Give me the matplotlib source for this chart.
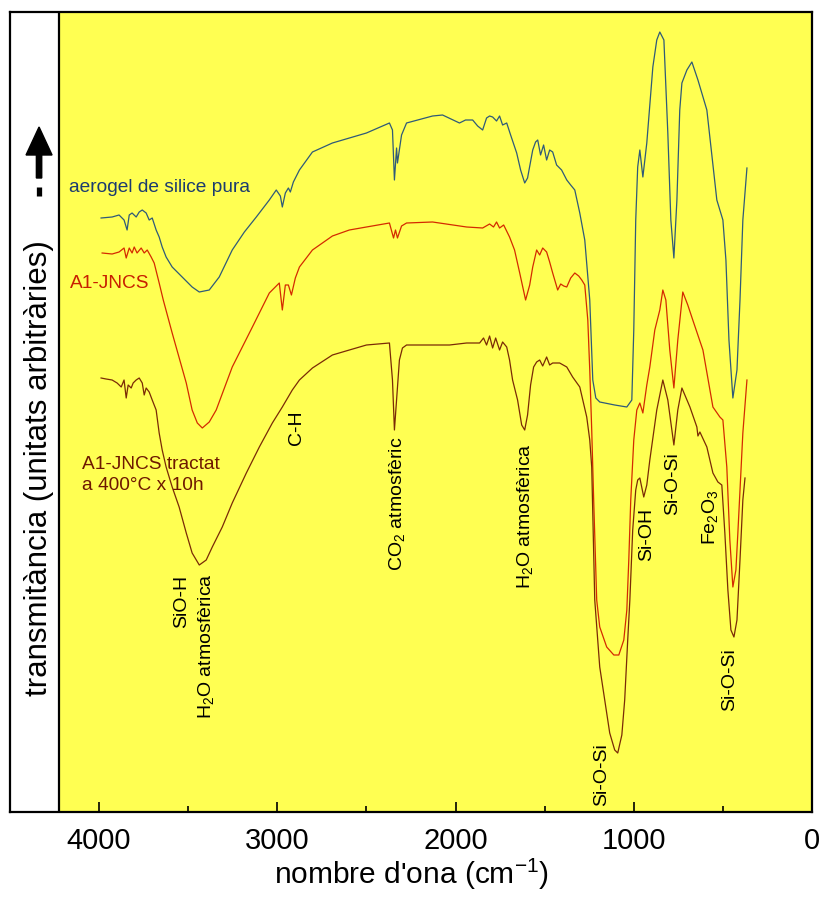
import numpy as np
import matplotlib
matplotlib.use("Agg")
import matplotlib.pyplot as plt

plt.rcParams['font.family'] = ['Liberation Sans', 'DejaVu Sans']
plt.rcParams['mathtext.fontset'] = 'custom'
plt.rcParams['mathtext.rm'] = 'Liberation Sans'
plt.rcParams['mathtext.it'] = 'Liberation Sans'

# espectre FTIR: nombre d'ona (cm-1) i transmitancia (unitats arbitraries)
wn_aerogel = [3989, 3927, 3888, 3860, 3843, 3831, 3815, 3792, 3775, 3758, 3736, 3719, 3702,
              3680, 3663, 3646, 3624, 3590, 3534, 3478, 3438, 3382, 3326, 3253, 3185, 3118,
              3045, 3006, 2983, 2972, 2955, 2938, 2927, 2910, 2876, 2803, 2691, 2500, 2371,
              2354, 2343, 2331, 2326, 2303, 2275, 2129, 2073, 1978, 1944, 1904, 1876, 1848,
              1826, 1809, 1792, 1770, 1753, 1736, 1713, 1691, 1657, 1635, 1612, 1596, 1567,
              1551, 1539, 1523, 1506, 1489, 1472, 1455, 1433, 1405, 1376, 1354, 1331, 1303,
              1275, 1247, 1230, 1213, 1191, 1107, 1039, 1011, 1000, 989, 978, 966, 949, 927,
              893, 871, 854, 831, 809, 792, 775, 758, 742, 730, 702, 674, 640, 590, 534, 500,
              483, 466, 444, 421, 404, 388, 365]
t_aerogel = [594, 595, 597, 592, 582, 597, 599, 595, 600, 602, 599, 592, 594,
             582, 575, 565, 555, 545, 535, 525, 520, 522, 535, 562, 580, 595,
             612, 622, 616, 605, 619, 624, 620, 630, 642, 660, 669, 679, 689,
             682, 632, 664, 649, 677, 689, 696, 697, 689, 692, 692, 686, 682,
             694, 696, 695, 691, 696, 687, 689, 677, 659, 642, 629, 634, 662,
             670, 672, 657, 667, 652, 662, 660, 647, 642, 632, 627, 622, 599,
             572, 512, 432, 414, 410, 407, 405, 412, 482, 592, 645, 662, 635, 669,
             745, 772, 780, 772, 679, 592, 554, 612, 702, 729, 742, 750, 732, 702, 612, 592,
             552, 472, 414, 442, 512, 592, 644]

wn_a1 = [3983, 3927, 3888, 3860, 3848, 3831, 3815, 3803, 3787, 3764, 3747, 3730, 3708,
         3691, 3663, 3640, 3590, 3511, 3478, 3449, 3421, 3382, 3343, 3253, 3140, 3045,
         2989, 2972, 2955, 2938, 2921, 2899, 2876, 2803, 2691, 2596, 2500, 2371, 2348,
         2337, 2326, 2303, 2275, 2129, 1938, 1848, 1809, 1787, 1770, 1753, 1730, 1697,
         1669, 1640, 1607, 1584, 1567, 1545, 1528, 1511, 1489, 1472, 1455, 1427, 1410,
         1393, 1376, 1354, 1331, 1309, 1292, 1275, 1258, 1247, 1236, 1225, 1208, 1191,
         1152, 1112, 1084, 1056, 1039, 1028, 1017, 1000, 983, 966, 949, 927, 910, 882,
         854, 837, 820, 798, 775, 753, 725, 697, 669, 612, 556, 517, 500, 478, 461, 444,
         427, 416, 388, 365]
t_a1 = [559, 558, 560, 564, 554, 564, 559, 565, 559, 564, 559, 562, 555,
        549, 529, 512, 479, 429, 402, 389, 384, 390, 402, 445, 485, 519,
        529, 502, 527, 527, 517, 534, 545, 562, 576, 582, 585, 589, 574,
        582, 574, 586, 589, 590, 585, 584, 588, 585, 590, 584, 587, 575,
        562, 539, 512, 527, 545, 562, 557, 564, 560, 550, 539, 522, 528,
        526, 525, 534, 539, 536, 532, 527, 492, 442, 382, 312, 212, 185,
        165, 157, 157, 172, 202, 252, 312, 372, 402, 409, 399, 427, 445, 482,
        502, 522, 512, 462, 424, 472, 520, 507, 492, 462, 405, 395, 392, 345, 272, 225,
        242, 279, 379, 432]

wn_tractat = [3989, 3961, 3927, 3899, 3876, 3860, 3848, 3837, 3820, 3809, 3792, 3775, 3758,
              3747, 3736, 3719, 3702, 3680, 3663, 3646, 3624, 3590, 3551, 3511, 3478, 3438,
              3399, 3365, 3309, 3253, 3174, 3101, 3028, 2972, 2916, 2876, 2803, 2691, 2596,
              2500, 2371, 2354, 2343, 2331, 2315, 2298, 2275, 2034, 1938, 1865, 1843, 1826,
              1809, 1792, 1775, 1753, 1736, 1713, 1697, 1680, 1652, 1629, 1612, 1596, 1579,
              1562, 1545, 1528, 1511, 1489, 1472, 1455, 1416, 1376, 1343, 1303, 1264, 1247,
              1236, 1219, 1191, 1163, 1135, 1107, 1090, 1067, 1051, 1034, 1022, 1006, 989,
              978, 966, 944, 927, 910, 871, 837, 809, 775, 753, 730, 685, 646, 640, 629, 590,
              556, 528, 506, 489, 472, 455, 438, 421, 404, 388, 376]
t_tractat = [434, 433, 432, 429, 425, 432, 414, 427, 424, 429, 432, 434, 429,
             417, 424, 420, 412, 402, 379, 362, 345, 325, 305, 279, 259, 247,
             252, 265, 285, 309, 339, 365, 389, 405, 422, 432, 444, 457, 462,
             467, 469, 432, 382, 412, 452, 464, 467, 467, 469, 469, 474, 467,
             476, 464, 474, 462, 470, 465, 452, 432, 412, 387, 382, 397, 427,
             445, 450, 452, 446, 455, 447, 449, 449, 445, 435, 425, 395, 372,
             345, 212, 145, 112, 79, 62, 59, 77, 112, 172, 212, 282, 322,
             332, 334, 315, 327, 352, 402, 432, 412, 367, 402, 424, 405, 385, 376, 380, 365,
             339, 330, 327, 279, 222, 182, 175, 192, 252, 312, 334]

# etiquetes de bandes: (text, x, y superior)
bandes = [
    ('SiO-H', 3539, 237),
    ('H$_2$O atmosfèrica', 3399, 239),
    ('C-H', 2893, 402),
    ('CO$_2$ atmosfèric', 2331, 375),
    ('H$_2$O atmosfèrica', 1612, 369),
    ('Si-O-Si', 1180, 69),
    ('Si-OH', 927, 304),
    ('Si-O-Si', 781, 360),
    ('Fe$_2$O$_3$', 573, 322),
    ('Si-O-Si', 461, 164),
]

fig = plt.figure(figsize=(8.27, 8.97), dpi=100)
ax = fig.add_axes([10 / 827, 85 / 897, 802 / 827, 800 / 897])

ax.set_xlim(4500, 0)
ax.set_ylim(0, 800)

# fons groc i franja blanca
ax.axvspan(4225, 0, color='#ffff52', zorder=0)
ax.axvline(4225, color='black', lw=1.6, zorder=1)

ax.plot(wn_aerogel, t_aerogel, color='#2f5a78', lw=0.9, zorder=3)
ax.plot(wn_a1, t_a1, color='#d42a00', lw=0.9, zorder=3)
ax.plot(wn_tractat, t_tractat, color='#7a2a05', lw=0.9, zorder=3)

# noms de les mostres
ax.text(4169, 625, 'aerogel de silice pura', color='#1b3b6f', fontsize=13.8,
        ha='left', va='center')
ax.text(4163, 528, 'A1-JNCS', color='#c81e00', fontsize=13.8, ha='left', va='center')
ax.text(4096, 337, 'A1-JNCS tractat\na 400°C x 10h', color='#6e1800', fontsize=13.8,
        ha='left', va='center', linespacing=1.25)

for txt, x, y in bandes:
    ax.text(x, y, txt, rotation=90, ha='center', va='top', fontsize=14, color='black',
            zorder=4)

# etiqueta de l'eix y amb fletxa
ax.text(4337, 344, 'transmitància (unitats arbitràries)', rotation=90, ha='center',
        va='center', fontsize=22.5)
ax.arrow(4337, 634, 0, 23, width=30, head_width=146, head_length=28,
         length_includes_head=False, color='black', zorder=5)
ax.plot([4337, 4337], [616, 625], color='black', lw=3.8, solid_capstyle='butt')

ax.set_xticks([4000, 3000, 2000, 1000, 0])
ax.set_xticks([3500, 2500, 1500, 500], minor=True)
ax.tick_params(axis='x', which='major', direction='in', length=7, width=1.2,
               labelsize=21, pad=11)
ax.tick_params(axis='x', which='minor', direction='in', length=4, width=1.2)
ax.set_yticks([])
for s in ax.spines.values():
    s.set_linewidth(1.6)

ax.set_xlabel("nombre d'ona (cm$^{-1}$)", fontsize=21.5, labelpad=1)

fig.savefig('out.png', dpi=100)
